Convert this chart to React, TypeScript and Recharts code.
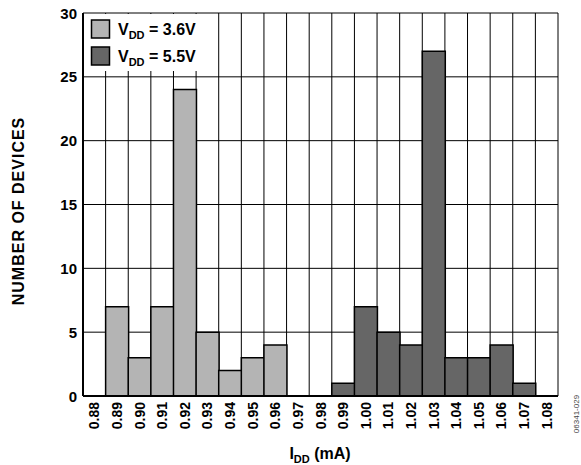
import React from 'react';
import { Bar, BarChart, CartesianGrid, XAxis, YAxis } from 'recharts';

const categories = ['0.88', '0.89', '0.90', '0.91', '0.92', '0.93', '0.94', '0.95', '0.96', '0.97', '0.98', '0.99', '1.00', '1.01', '1.02', '1.03', '1.04', '1.05', '1.06', '1.07', '1.08'];
const vdd36 = [null, 7, 3, 7, 24, 5, 2, 3, 4, null, null, null, null, null, null, null, null, null, null, null, null];
const vdd55 = [null, null, null, null, null, null, null, null, null, null, null, 1, 7, 5, 4, 27, 3, 3, 4, 1, null];
const yTicks = [0, 5, 10, 15, 20, 25, 30];

const FONT = '"Liberation Sans", Arial, Helvetica, sans-serif';
const LIGHT = '#b4b4b4';
const DARK = '#666666';

const data = categories.map((cat, i) => ({ cat, low: vdd36[i], high: vdd55[i] }));

const XTick = ({ x, y, payload }: any) => (
  <text
    x={x}
    y={y}
    transform={`rotate(-90 ${x} ${y})`}
    textAnchor="end"
    dominantBaseline="central"
    fontFamily={FONT}
    fontWeight="bold"
    fontSize={14}
    fill="#000"
  >
    {payload.value}
  </text>
);

const YTick = ({ x, y, payload }: any) => (
  <text x={x} y={y} textAnchor="end" dominantBaseline="central" fontFamily={FONT} fontWeight="bold" fontSize={15} fill="#000">
    {payload.value}
  </text>
);

const LegendRow = ({ y, color, label }: { y: number; color: string; label: string }) => (
  <g>
    <rect x={7.5} y={y} width={18} height={18} fill={color} stroke="#000" strokeWidth={1.5} />
    <text x={34} y={y + 15} fontFamily={FONT} fontWeight="bold" fontSize={16} fill="#000">
      V<tspan fontSize={11} dy={4}>DD</tspan>
      <tspan dy={-4}>{` = ${label}`}</tspan>
    </text>
  </g>
);

export default function App() {
  const width = 581;
  const height = 465;
  return (
    <div style={{ position: 'absolute', left: 0, top: 0, width, height, background: '#fff' }}>
      <BarChart
        width={width}
        height={height}
        data={data}
        margin={{ top: 13, right: 23, left: 23, bottom: 19 }}
        barCategoryGap={0}
        barGap={0}
      >
        <CartesianGrid
          stroke="#000"
          strokeWidth={1}
          verticalCoordinatesGenerator={({ offset }: any) =>
            Array.from({ length: categories.length + 1 }, (_, i) => offset.left + (i * offset.width) / categories.length)
          }
        />
        <XAxis
          dataKey="cat"
          height={50}
          tick={<XTick />}
          tickLine={false}
          tickMargin={0}
          axisLine={{ stroke: '#000', strokeWidth: 2 }}
          interval={0}
        />
        <XAxis xAxisId="top" orientation="top" dataKey="cat" height={0} tick={false} tickLine={false} axisLine={{ stroke: '#000', strokeWidth: 2 }} />
        <YAxis
          width={60}
          domain={[0, 30]}
          ticks={yTicks}
          tick={<YTick />}
          tickLine={false}
          tickMargin={0}
          axisLine={{ stroke: '#000', strokeWidth: 2 }}
          interval={0}
        />
        <YAxis yAxisId="right" orientation="right" width={0} domain={[0, 30]} tick={false} tickLine={false} axisLine={{ stroke: '#000', strokeWidth: 2 }} />
        <Bar dataKey="low" stackId="s" fill={LIGHT} stroke="#000" strokeWidth={1.5} isAnimationActive={false} />
        <Bar dataKey="high" stackId="s" fill={DARK} stroke="#000" strokeWidth={1.5} isAnimationActive={false} />
      </BarChart>
      <svg width={width} height={height} style={{ position: 'absolute', left: 0, top: 0, pointerEvents: 'none' }}>
        <text
          x={18}
          y={211}
          transform="rotate(-90 18 211)"
          textAnchor="middle"
          dominantBaseline="central"
          fontFamily={FONT}
          fontWeight="bold"
          fontSize={16}
          letterSpacing={1}
          fill="#000"
        >
          NUMBER OF DEVICES
        </text>
        <text x={320} y={459} textAnchor="middle" fontFamily={FONT} fontWeight="bold" fontSize={16} fill="#000">
          I<tspan fontSize={11} dy={4}>DD</tspan>
          <tspan dy={-4}> (mA)</tspan>
        </text>
        <text
          x={576}
          y={414}
          transform="rotate(-90 576 414)"
          textAnchor="middle"
          dominantBaseline="central"
          fontFamily={FONT}
          fontSize={8}
          fill="#444"
        >
          06341-029
        </text>
        <g transform="translate(84 14)">
          <rect x={0} y={0} width={124} height={57} fill="#fff" />
          <LegendRow y={6} color={LIGHT} label="3.6V" />
          <LegendRow y={33} color={DARK} label="5.5V" />
        </g>
      </svg>
    </div>
  );
}
